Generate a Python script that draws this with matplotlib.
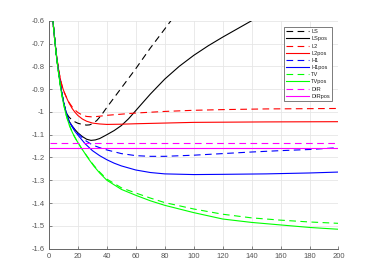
import matplotlib
matplotlib.use("Agg")
import matplotlib.pyplot as plt

plt.rcParams["font.family"] = ["Liberation Sans", "DejaVu Sans"]
plt.rcParams["axes.unicode_minus"] = False

# ---- data ----
ls_x = [2.3, 3, 4, 5, 6, 7, 8, 9, 10, 11, 12, 13, 14, 16, 18, 20, 23, 26, 28, 30, 33, 36, 40, 50, 60, 70, 80, 86]
ls_y = [-0.575, -0.62, -0.685, -0.745, -0.795, -0.842, -0.885, -0.922, -0.955, -0.982, -1.003, -1.015, -1.024, -1.036, -1.044, -1.05, -1.055, -1.058, -1.057, -1.052, -1.038, -1.016, -0.98, -0.895, -0.81, -0.72, -0.636, -0.585]

lspos_x = [2.3, 3, 4, 5, 6, 7, 8, 9, 10, 11, 12, 13, 14, 16, 18, 20, 23, 26, 29, 32, 35, 40, 45, 50, 55, 60, 70, 80, 90, 100, 110, 120, 130, 140, 142]
lspos_y = [-0.575, -0.62, -0.685, -0.745, -0.795, -0.842, -0.885, -0.922, -0.955, -0.982, -1.005, -1.025, -1.042, -1.062, -1.078, -1.092, -1.108, -1.12, -1.125, -1.123, -1.117, -1.10, -1.082, -1.06, -1.03, -0.994, -0.922, -0.856, -0.80, -0.752, -0.71, -0.672, -0.636, -0.60, -0.593]

l2_x = [2.3, 3, 4, 5, 6, 7, 8, 9, 10, 11, 12, 13, 14, 16, 18, 20, 23, 26, 30, 35, 40, 50, 60, 80, 100, 120, 150, 200]
l2_y = [-0.575, -0.62, -0.685, -0.742, -0.788, -0.828, -0.86, -0.885, -0.905, -0.921, -0.935, -0.948, -0.96, -0.978, -0.992, -1.003, -1.014, -1.02, -1.022, -1.019, -1.015, -1.01, -1.005, -0.998, -0.993, -0.99, -0.987, -0.985]

l2pos_x = [2.3, 3, 4, 5, 6, 7, 8, 9, 10, 11, 12, 13, 14, 16, 18, 20, 23, 26, 30, 35, 40, 50, 60, 80, 100, 150, 200]
l2pos_y = [-0.575, -0.62, -0.685, -0.742, -0.788, -0.828, -0.86, -0.885, -0.905, -0.921, -0.936, -0.95, -0.963, -0.985, -1.002, -1.016, -1.031, -1.041, -1.049, -1.053, -1.055, -1.054, -1.052, -1.049, -1.046, -1.044, -1.043]

h1_x = [2.3, 3, 4, 5, 6, 7, 8, 9, 10, 11, 12, 13, 14, 16, 18, 20, 25, 30, 35, 40, 50, 60, 70, 80, 100, 120, 140, 160, 180, 200]
h1_y = [-0.575, -0.62, -0.685, -0.745, -0.795, -0.842, -0.885, -0.922, -0.955, -0.982, -1.005, -1.025, -1.042, -1.063, -1.08, -1.095, -1.125, -1.145, -1.157, -1.167, -1.183, -1.192, -1.195, -1.195, -1.19, -1.183, -1.176, -1.17, -1.165, -1.157]

h1pos_x = [2.3, 3, 4, 5, 6, 7, 8, 9, 10, 11, 12, 13, 14, 16, 18, 20, 25, 30, 35, 40, 45, 50, 60, 70, 80, 100, 120, 150, 180, 200]
h1pos_y = [-0.575, -0.62, -0.685, -0.745, -0.795, -0.842, -0.885, -0.922, -0.955, -0.982, -1.005, -1.025, -1.043, -1.066, -1.086, -1.102, -1.14, -1.17, -1.192, -1.21, -1.225, -1.237, -1.255, -1.266, -1.272, -1.275, -1.274, -1.272, -1.268, -1.264]

tv_x = [2.3, 3, 4, 5, 6, 7, 8, 9, 10, 11, 12, 13, 14, 15, 16, 17, 18, 20, 22, 25, 28, 31, 35, 40, 50, 60, 70, 80, 100, 120, 140, 160, 180, 200]
tv_y = [-0.575, -0.62, -0.688, -0.748, -0.8, -0.848, -0.892, -0.93, -0.963, -0.992, -1.017, -1.038, -1.057, -1.073, -1.088, -1.101, -1.113, -1.135, -1.155, -1.183, -1.21, -1.235, -1.264, -1.295, -1.333, -1.356, -1.378, -1.398, -1.426, -1.449, -1.465, -1.475, -1.483, -1.489]

tvpos_x = [2.3, 3, 4, 5, 6, 7, 8, 9, 10, 11, 12, 13, 14, 15, 16, 17, 18, 20, 22, 25, 28, 31, 35, 40, 50, 60, 70, 80, 100, 120, 140, 160, 180, 200]
tvpos_y = [-0.575, -0.62, -0.688, -0.748, -0.8, -0.848, -0.892, -0.93, -0.963, -0.992, -1.017, -1.038, -1.057, -1.073, -1.088, -1.101, -1.113, -1.135, -1.155, -1.184, -1.212, -1.238, -1.268, -1.30, -1.34, -1.366, -1.39, -1.41, -1.442, -1.470, -1.485, -1.496, -1.507, -1.515]

dir_x = [1, 200]
dir_y = [-1.138, -1.138]
dirpos_x = [1, 200]
dirpos_y = [-1.16, -1.16]

labels = ["LS", "LSpos", "L2", "L2pos", "H1", "H1pos", "TV", "TVpos", "DIR", "DIRpos"]
xticks = [0, 20, 40, 60, 80, 100, 120, 140, 160, 180, 200]
yticks = [-1.6, -1.5, -1.4, -1.3, -1.2, -1.1, -1.0, -0.9, -0.8, -0.7, -0.6]
ytick_labels = ["-1.6", "-1.5", "-1.4", "-1.3", "-1.2", "-1.1", "-1", "-0.9", "-0.8", "-0.7", "-0.6"]

series = [
    (ls_x, ls_y, "k", "--"), (lspos_x, lspos_y, "k", "-"),
    (l2_x, l2_y, "#ff0000", "--"), (l2pos_x, l2pos_y, "#ff0000", "-"),
    (h1_x, h1_y, "#0000ff", "--"), (h1pos_x, h1pos_y, "#0000ff", "-"),
    (tv_x, tv_y, "#00ff00", "--"), (tvpos_x, tvpos_y, "#00ff00", "-"),
    (dir_x, dir_y, "#ff00ff", "--"), (dirpos_x, dirpos_y, "#ff00ff", "-"),
]

fig = plt.figure(figsize=(3.74, 2.80), dpi=100)
ax = fig.add_axes([0.131, 0.112, 0.774, 0.814])

for (x, y, c, ls), lab in zip(series, labels):
    kw = dict(dashes=(6, 4)) if ls == "--" else {}
    ax.plot(x, y, color=c, linestyle=ls, linewidth=0.8, label=lab, **kw)

ax.set_xlim(0, 200)
ax.set_ylim(-1.6, -0.6)
ax.set_xticks(xticks)
ax.set_yticks(yticks)
ax.set_yticklabels(ytick_labels)
ax.grid(True, color="#e6e6e6", linewidth=0.6)
ax.set_axisbelow(True)
for s in ["top", "right"]:
    ax.spines[s].set_visible(False)
for s in ["left", "bottom"]:
    ax.spines[s].set_color("#666666")
    ax.spines[s].set_linewidth(0.7)
ax.tick_params(labelsize=5.5, colors="#555555", length=2, width=0.5, direction="in", pad=3)

leg = ax.legend(loc="upper right", bbox_to_anchor=(0.9775, 0.971), borderaxespad=0,
                fontsize=4.1, handlelength=3.9, handletextpad=0.45, borderpad=0.35,
                labelspacing=0.38, fancybox=False, framealpha=1)
leg.get_frame().set_edgecolor("#666666")
leg.get_frame().set_linewidth(0.6)
for t in leg.get_texts():
    t.set_color("#222222")

fig.savefig("out.png", dpi=100)
